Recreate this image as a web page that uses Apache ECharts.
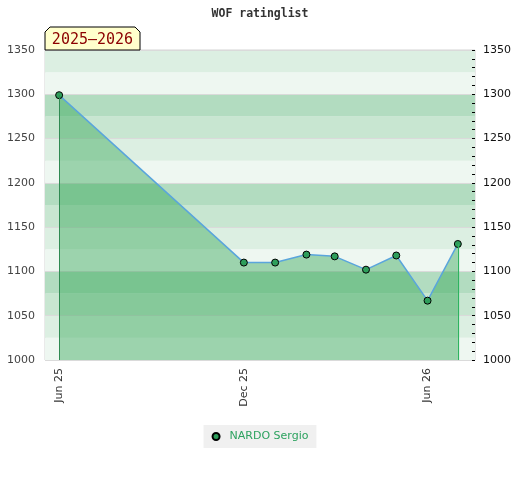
<!DOCTYPE html>
<html>
<head>
<meta charset="utf-8">
<script src="https://cdn.jsdelivr.net/npm/echarts@6/dist/echarts.min.js"></script>
<style>
  html, body { margin: 0; padding: 0; background: #fff; }
  #chart { width: 520px; height: 480px; }
</style>
</head>
<body>
<div id="chart"></div>
<script>
// rating data, one point per month
var dates = ["2025-06-01", "2025-12-01", "2026-01-01", "2026-02-01", "2026-03-01", "2026-04-01", "2026-05-01", "2026-06-01", "2026-07-01"];
var ratings = [1299, 1110, 1110, 1119, 1117, 1102, 1118, 1067, 1131];
var playerName = "NARDO Sergio";
var seasonLabel = "2025\u20132026";
var tickDates = ["2025-06-01", "2025-12-01", "2026-06-01"];
var yMin = 1000, yMax = 1350;
var xMin = "2025-05-18", xMax = "2026-07-18";
var monthNames = ["Jan", "Feb", "Mar", "Apr", "May", "Jun", "Jul", "Aug", "Sep", "Oct", "Nov", "Dec"];

// background bands cycle every 100 points (lightest at the bottom)
var bandColors = ["#eef7f1", "#dcefe2", "#c8e6d1", "#b2dcc0"];

function ts(d) { return new Date(d + "T00:00:00Z").getTime(); }

var seriesData = [];
for (var i = 0; i < dates.length; i++) seriesData.push([ts(dates[i]), ratings[i]]);

var last = dates.length - 1;

var myChart = echarts.init(document.getElementById("chart"));
myChart.setOption({
    animation: false,
    title: {
        text: "WOF ratinglist", left: "center", top: 3,
        textStyle: {fontFamily: "DejaVu Sans Mono", fontWeight: "bold", fontSize: 11.5, color: "#333"}
    },
    grid: {left: 45, right: 45, top: 50, bottom: 120, show: true, borderColor: "#d4d4d4", borderWidth: 1},
    legend: {
        data: [playerName], bottom: 32, left: "center",
        backgroundColor: "#f0f0f0", padding: [6, 8],
        icon: "circle", itemWidth: 7, itemHeight: 7,
        textStyle: {color: "#2ca25f", fontSize: 11, fontFamily: "DejaVu Sans", padding: [0, 0, 0, 5]}
    },
    xAxis: {
        type: "value", min: ts(xMin), max: ts(xMax),
        axisLine: {show: false}, axisTick: {show: false}, splitLine: {show: false},
        axisLabel: {
            customValues: tickDates.map(ts),
            rotate: 90, margin: 8, fontSize: 11, color: "#333", fontFamily: "DejaVu Sans",
            formatter: function (v) {
                var d = new Date(v);
                return monthNames[d.getUTCMonth()] + " " + String(d.getUTCFullYear()).slice(2);
            }
        }
    },
    yAxis: [{
        type: "value", min: yMin, max: yMax, interval: 25, position: "left",
        axisLine: {show: false}, axisTick: {show: false},
        splitLine: {show: false},
        splitArea: {show: true, areaStyle: {color: bandColors}},
        axisLabel: {
            fontSize: 11, color: "#444", fontFamily: "DejaVu Sans", margin: 10,
            formatter: function (v) { return v % 50 === 0 ? String(v) : ""; }
        }
    }, {
        type: "value", min: yMin, max: yMax, interval: 50, position: "right",
        axisLine: {show: false},
        axisTick: {show: true, inside: true, length: 3, lineStyle: {color: "#000"}},
        minorTick: {show: true, splitNumber: 5, length: 3, lineStyle: {color: "#000"}},
        splitLine: {show: true, lineStyle: {color: "#dadada", width: 1}},
        axisLabel: {
            fontSize: 11, color: "#111", fontFamily: "DejaVu Sans", margin: 8,
            formatter: function (v) { return String(v); }
        }
    }],
    graphic: [{
        type: "polygon", z: 100,
        shape: {points: [[45, 50], [45, 32], [50, 27], [135, 27], [140, 32], [140, 50]]},
        style: {fill: "#ffffcc", stroke: "#000", lineWidth: 1}
    }, {
        type: "text", z: 101, x: 92.5, y: 40,
        style: {
            text: seasonLabel, fill: "#8b0000", font: "15px 'DejaVu Sans Mono'",
            align: "center", verticalAlign: "middle"
        }
    }],
    series: [{
        name: playerName, type: "line", yAxisIndex: 0, data: seriesData,
        symbol: "circle", symbolSize: 7,
        itemStyle: {color: "#2e9e5b", borderColor: "#000", borderWidth: 1},
        lineStyle: {color: "#5aa5dc", width: 1.5},
        areaStyle: {color: "rgb(43,163,79)", opacity: 0.42, origin: "start"},
        markLine: {
            silent: true, symbol: "none", label: {show: false},
            data: [
                [{coord: [ts(dates[0]), ratings[0]], lineStyle: {color: "#2f8a52", width: 1, type: "solid"}},
                 {coord: [ts(dates[0]), yMin]}],
                [{coord: [ts(dates[last]), ratings[last]], lineStyle: {color: "#2eb35f", width: 1.2, type: "solid"}},
                 {coord: [ts(dates[last]), yMin]}]
            ]
        }
    }]
});
</script>
</body>
</html>
